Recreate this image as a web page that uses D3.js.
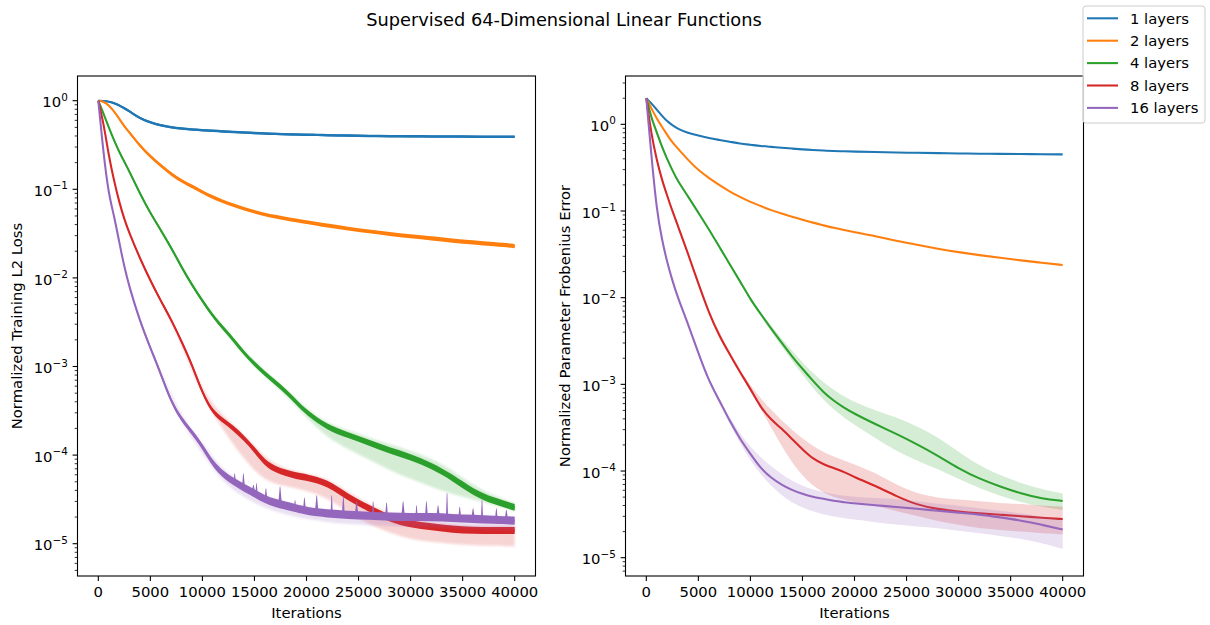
<!DOCTYPE html>
<html>
<head>
<meta charset="utf-8">
<script src="https://cdn.jsdelivr.net/npm/d3@7"></script>
<style>
  html, body { margin: 0; padding: 0; background: #ffffff; }
  text { font-family: "DejaVu Sans", sans-serif; fill: #000; }
</style>
</head>
<body>
<svg id="chart" width="1210" height="625"></svg>
<script>
// ---------- data ----------
const iterations = [0, 500, 1000, 1500, 2000, 2500, 3000, 4000, 5000, 6000, 7000, 8000, 9000,
  10000, 11000, 12000, 13000, 14000, 15000, 16000, 17000, 18000, 19000, 20000,
  22000, 24000, 26000, 28000, 30000, 32000, 34000, 36000, 38000, 40000];

const layerLabels = ["1 layers", "2 layers", "4 layers", "8 layers", "16 layers"];

// Normalized training L2 loss (running mean)
const lossL1 = [1.00, 0.99, 0.98, 0.94, 0.89, 0.82, 0.76, 0.63, 0.57, 0.525, 0.50, 0.484, 0.473,
  0.465, 0.457, 0.45, 0.444, 0.437, 0.43, 0.427, 0.422, 0.419, 0.416, 0.413,
  0.407, 0.404, 0.40, 0.398, 0.396, 0.394, 0.394, 0.393, 0.392, 0.391];
const lossL2 = [1.00, 0.98, 0.89, 0.76, 0.63, 0.51, 0.437, 0.309, 0.234, 0.186, 0.148, 0.124, 0.108,
  0.0933, 0.0813, 0.0724, 0.0661, 0.0603, 0.0556, 0.0519, 0.049, 0.0468, 0.0447, 0.0427,
  0.0389, 0.0359, 0.0335, 0.0313, 0.0295, 0.0279, 0.0264, 0.0251, 0.024, 0.0229];
const lossL4 = [1.00, 0.716, 0.501, 0.359, 0.266, 0.204, 0.158, 0.0891, 0.0537, 0.0347, 0.0219, 0.0132, 0.00832,
  0.0055, 0.00372, 0.00269, 0.0020, 0.00141, 0.00107, 8.32e-4, 6.61e-4, 5.25e-4, 3.98e-4, 3.02e-4,
  2.04e-4, 1.68e-4, 1.38e-4, 1.12e-4, 9.55e-5, 7.59e-5, 5.62e-5, 3.80e-5, 3.02e-5, 2.57e-5];
const lossL8 = [1.00, 0.562, 0.240, 0.126, 0.0724, 0.0457, 0.0316, 0.0166, 0.00933, 0.0055, 0.00339, 0.00191, 0.00105,
  5.01e-4, 3.02e-4, 2.45e-4, 2.00e-4, 1.55e-4, 1.15e-4, 8.13e-5, 6.92e-5, 6.31e-5, 5.82e-5, 5.62e-5,
  4.90e-5, 3.31e-5, 2.51e-5, 1.91e-5, 1.66e-5, 1.55e-5, 1.45e-5, 1.41e-5, 1.41e-5, 1.41e-5];
const lossL16 = [1.00, 0.251, 0.0871, 0.0513, 0.0257, 0.0132, 0.00776, 0.00324, 0.00162, 8.32e-4, 3.98e-4, 2.51e-4, 1.82e-4,
  1.26e-4, 7.94e-5, 6.03e-5, 5.01e-5, 4.27e-5, 3.72e-5, 3.16e-5, 2.88e-5, 2.69e-5, 2.51e-5, 2.34e-5,
  2.19e-5, 2.11e-5, 2.07e-5, 2.02e-5, 2.00e-5, 2.00e-5, 1.95e-5, 1.91e-5, 1.86e-5, 1.82e-5];

// Half-width of the per-step jitter around each loss curve, in decades
const lossJitterL1 = [0.004, 0.008, 0.010, 0.012, 0.014, 0.014, 0.014, 0.014, 0.014, 0.014, 0.014, 0.014, 0.014,
  0.014, 0.014, 0.014, 0.014, 0.014, 0.014, 0.014, 0.014, 0.014, 0.014, 0.014,
  0.014, 0.014, 0.014, 0.014, 0.014, 0.014, 0.014, 0.014, 0.014, 0.014];
const lossJitterL2 = [0.004, 0.008, 0.010, 0.012, 0.014, 0.015, 0.016, 0.018, 0.019, 0.020, 0.020, 0.020, 0.020,
  0.020, 0.020, 0.020, 0.020, 0.020, 0.020, 0.020, 0.021, 0.021, 0.021, 0.021,
  0.022, 0.022, 0.022, 0.023, 0.023, 0.023, 0.024, 0.024, 0.024, 0.024];
const lossJitterL4 = [0.004, 0.008, 0.010, 0.012, 0.013, 0.014, 0.015, 0.016, 0.017, 0.018, 0.019, 0.020, 0.021,
  0.022, 0.023, 0.024, 0.025, 0.026, 0.027, 0.028, 0.029, 0.030, 0.030, 0.031,
  0.032, 0.033, 0.034, 0.035, 0.036, 0.036, 0.037, 0.038, 0.038, 0.038];
const lossJitterL8 = [0.004, 0.008, 0.010, 0.012, 0.013, 0.014, 0.015, 0.016, 0.017, 0.018, 0.019, 0.020, 0.022,
  0.024, 0.026, 0.028, 0.030, 0.032, 0.034, 0.035, 0.036, 0.036, 0.037, 0.037,
  0.038, 0.038, 0.039, 0.040, 0.040, 0.040, 0.040, 0.040, 0.040, 0.040];
const lossJitterL16 = [0.004, 0.008, 0.010, 0.012, 0.014, 0.016, 0.018, 0.020, 0.022, 0.024, 0.026, 0.028, 0.030,
  0.033, 0.036, 0.040, 0.042, 0.045, 0.046, 0.046, 0.046, 0.046, 0.046, 0.046,
  0.046, 0.046, 0.046, 0.046, 0.046, 0.046, 0.046, 0.046, 0.046, 0.046];

// Upward spikes of the 16-layer loss
const spikeIterationsL16 = [13100, 13940, 14900, 15200, 16100, 17460, 18900, 19800, 20980, 22420, 23540, 24810,
  26400, 27690, 29280, 30570, 31520, 32640, 33500, 34720, 36000, 36860, 38240, 39200];
const spikePeaksL16 = [6.2e-5, 6.2e-5, 4.6e-5, 4.8e-5, 4.2e-5, 4.4e-5, 3.1e-5, 3.3e-5, 3.5e-5, 3.5e-5, 3.4e-5, 3.0e-5,
  3.0e-5, 2.9e-5, 3.0e-5, 2.7e-5, 3.0e-5, 2.7e-5, 3.7e-5, 2.6e-5, 2.5e-5, 3.1e-5, 2.5e-5, 2.4e-5];

// Spread across seeds, sampled from 6000 iterations on
const bandIterations = [6000, 8000, 10000, 12000, 14000, 16000, 18000, 20000, 22000,
  24000, 26000, 28000, 30000, 32000, 34000, 36000, 38000, 40000];

const lossBandHighL4 = [0.0355, 0.0135, 0.00562, 0.00282, 0.00148, 8.91e-4, 5.62e-4, 3.31e-4, 2.29e-4,
  1.91e-4, 1.58e-4, 1.32e-4, 1.12e-4, 9.12e-5, 6.76e-5, 4.57e-5, 3.47e-5, 2.88e-5];
const lossBandLowL4 = [0.0339, 0.0129, 0.00537, 0.00257, 0.00132, 7.76e-4, 4.79e-4, 2.63e-4, 1.58e-4,
  1.17e-4, 8.91e-5, 6.76e-5, 5.37e-5, 4.37e-5, 3.63e-5, 3.16e-5, 2.75e-5, 2.34e-5];
const lossBandHighL8 = [0.00562, 0.0020, 5.25e-4, 2.69e-4, 1.74e-4, 9.12e-5, 6.92e-5, 6.17e-5, 5.50e-5,
  3.80e-5, 2.82e-5, 2.14e-5, 1.86e-5, 1.74e-5, 1.62e-5, 1.58e-5, 1.58e-5, 1.58e-5];
const lossBandLowL8 = [0.00537, 0.00182, 4.57e-4, 1.91e-4, 8.91e-5, 5.01e-5, 4.47e-5, 3.98e-5, 3.31e-5,
  2.24e-5, 1.66e-5, 1.32e-5, 1.12e-5, 1.05e-5, 1.00e-5, 9.55e-6, 9.55e-6, 9.33e-6];
const lossBandHighL16 = [8.71e-4, 2.69e-4, 1.38e-4, 6.61e-5, 4.68e-5, 3.47e-5, 2.95e-5, 2.57e-5, 2.40e-5,
  2.32e-5, 2.26e-5, 2.21e-5, 2.19e-5, 2.19e-5, 2.14e-5, 2.09e-5, 2.04e-5, 2.00e-5];
const lossBandLowL16 = [7.94e-4, 2.24e-4, 1.05e-4, 4.79e-5, 3.31e-5, 2.51e-5, 2.14e-5, 1.91e-5, 1.74e-5,
  1.66e-5, 1.62e-5, 1.58e-5, 1.55e-5, 1.55e-5, 1.51e-5, 1.48e-5, 1.45e-5, 1.41e-5];

// Normalized parameter Frobenius error (mean)
const errL1 = [2.00, 1.74, 1.48, 1.26, 1.08, 0.977, 0.891, 0.794, 0.741, 0.692, 0.661, 0.631, 0.598,
  0.581, 0.562, 0.550, 0.537, 0.525, 0.513, 0.505, 0.498, 0.492, 0.488, 0.484,
  0.479, 0.473, 0.469, 0.465, 0.461, 0.458, 0.456, 0.454, 0.452, 0.450];
const errL2 = [2.00, 1.51, 1.17, 0.933, 0.759, 0.617, 0.531, 0.389, 0.295, 0.241, 0.200, 0.168, 0.145,
  0.127, 0.114, 0.102, 0.0933, 0.0857, 0.0794, 0.0733, 0.0684, 0.0638, 0.0603, 0.0569,
  0.0513, 0.0452, 0.0407, 0.0367, 0.0335, 0.0309, 0.0288, 0.0269, 0.0253, 0.0238];
const errL4 = [2.00, 1.17, 0.813, 0.550, 0.398, 0.295, 0.224, 0.148, 0.0955, 0.0617, 0.0389, 0.0245, 0.0155,
  0.00955, 0.00646, 0.00437, 0.00302, 0.00209, 0.00151, 0.00110, 8.13e-4, 6.46e-4, 5.37e-4, 4.57e-4,
  3.47e-4, 2.69e-4, 2.04e-4, 1.51e-4, 1.07e-4, 8.13e-5, 6.61e-5, 5.50e-5, 4.79e-5, 4.52e-5];
const errL8 = [2.00, 0.741, 0.389, 0.229, 0.151, 0.100, 0.0692, 0.0324, 0.0145, 0.00676, 0.00363, 0.00224, 0.00138,
  8.91e-4, 5.37e-4, 3.89e-4, 3.09e-4, 2.34e-4, 1.78e-4, 1.38e-4, 1.20e-4, 1.08e-4, 9.77e-5, 8.51e-5,
  6.76e-5, 5.13e-5, 4.07e-5, 3.63e-5, 3.39e-5, 3.24e-5, 3.13e-5, 3.02e-5, 2.88e-5, 2.79e-5];
const errL16 = [2.00, 0.417, 0.102, 0.0468, 0.0257, 0.0158, 0.0102, 0.00501, 0.00229, 0.00110, 6.61e-4, 3.80e-4, 2.34e-4,
  1.58e-4, 1.07e-4, 8.32e-5, 6.92e-5, 6.03e-5, 5.43e-5, 5.01e-5, 4.79e-5, 4.52e-5, 4.37e-5, 4.22e-5,
  4.03e-5, 3.85e-5, 3.67e-5, 3.47e-5, 3.31e-5, 3.16e-5, 2.92e-5, 2.69e-5, 2.40e-5, 2.11e-5];

const errBandHighL4 = [0.0631, 0.0251, 0.00977, 0.00468, 0.00245, 0.00132, 8.51e-4, 6.17e-4, 5.01e-4,
  4.17e-4, 3.31e-4, 2.45e-4, 1.66e-4, 1.15e-4, 8.91e-5, 7.24e-5, 6.17e-5, 5.50e-5];
const errBandLowL4 = [0.0603, 0.0240, 0.00933, 0.00398, 0.00186, 8.91e-4, 5.01e-4, 3.39e-4, 2.40e-4,
  1.70e-4, 1.32e-4, 1.05e-4, 8.13e-5, 6.31e-5, 5.13e-5, 4.37e-5, 3.89e-5, 3.55e-5];
const errBandHighL8 = [0.00708, 0.00234, 9.33e-4, 5.01e-4, 2.95e-4, 1.91e-4, 1.45e-4, 1.20e-4, 9.55e-5,
  6.92e-5, 5.50e-5, 4.90e-5, 4.68e-5, 4.47e-5, 4.27e-5, 4.17e-5, 3.98e-5, 3.89e-5];
const errBandLowL8 = [0.00646, 0.00214, 8.32e-4, 3.16e-4, 1.20e-4, 6.46e-5, 4.90e-5, 4.37e-5, 3.98e-5,
  3.47e-5, 3.02e-5, 2.63e-5, 2.40e-5, 2.19e-5, 2.09e-5, 2.00e-5, 1.91e-5, 1.86e-5];
const errBandHighL16 = [0.00112, 4.07e-4, 1.82e-4, 1.12e-4, 7.59e-5, 6.03e-5, 5.37e-5, 5.01e-5, 4.90e-5,
  4.79e-5, 4.47e-5, 4.17e-5, 3.98e-5, 3.72e-5, 3.47e-5, 3.24e-5, 2.95e-5, 2.75e-5];
const errBandLowL16 = [0.00105, 3.47e-4, 1.26e-4, 6.61e-5, 4.17e-5, 3.39e-5, 2.95e-5, 2.75e-5, 2.57e-5,
  2.40e-5, 2.29e-5, 2.19e-5, 2.04e-5, 1.91e-5, 1.78e-5, 1.66e-5, 1.48e-5, 1.26e-5];

// Axis ticks and limits
const xTickValues = [0, 5000, 10000, 15000, 20000, 25000, 30000, 35000, 40000];
const xLimits = [-2000, 42000];
const yTickExponents = [0, -1, -2, -3, -4, -5];
const lossLimits = [4.32e-6, 1.90];
const errLimits = [6.15e-6, 3.61];

const colors = ["#1f77b4", "#ff7f0e", "#2ca02c", "#d62728", "#9467bd"];

// ---------- drawing ----------
const svg = d3.select("#chart");
const defs = svg.append("defs");
defs.append("filter").attr("id", "soften")
  .attr("x", "-5%").attr("y", "-5%").attr("width", "110%").attr("height", "110%")
  .append("feGaussianBlur").attr("stdDeviation", 1.3);

const TOP = 76, BOTTOM = 576;
const FS = 14.8;
const SUP = 10.4;

const panels = [
  {
    id: "loss", left: 77.5, right: 535.5, yLimits: lossLimits,
    yLabel: "Normalized Training L2 Loss", yLabelX: 22,
    series: [lossL1, lossL2, lossL4, lossL8, lossL16],
    jitter: [lossJitterL1, lossJitterL2, lossJitterL4, lossJitterL8, lossJitterL16],
    bands: [null, null, [lossBandLowL4, lossBandHighL4], [lossBandLowL8, lossBandHighL8], [lossBandLowL16, lossBandHighL16]],
    softBands: true
  },
  {
    id: "err", left: 625.5, right: 1083.5, yLimits: errLimits,
    yLabel: "Normalized Parameter Frobenius Error", yLabelX: 570,
    series: [errL1, errL2, errL4, errL8, errL16],
    jitter: null,
    bands: [null, null, [errBandLowL4, errBandHighL4], [errBandLowL8, errBandHighL8], [errBandLowL16, errBandHighL16]],
    softBands: false
  }
];

// value of a series at an arbitrary iteration (linear in log space)
function valueAt(series, it) {
  const i = Math.max(1, d3.bisectLeft(iterations, it));
  const x0 = iterations[i - 1], x1 = iterations[i];
  const t = (it - x0) / (x1 - x0);
  return Math.pow(10, Math.log10(series[i - 1]) * (1 - t) + Math.log10(series[i]) * t);
}

panels.forEach(p => {
  const x = d3.scaleLinear().domain(xLimits).range([p.left, p.right]);
  const y = d3.scaleLog().domain(p.yLimits).range([BOTTOM, TOP]);

  defs.append("clipPath").attr("id", "clip-" + p.id)
    .append("rect").attr("x", p.left).attr("y", TOP)
    .attr("width", p.right - p.left).attr("height", BOTTOM - TOP);

  const plot = svg.append("g").attr("clip-path", `url(#clip-${p.id})`);

  const line = d3.line().curve(d3.curveBasis)
    .x(d => x(d[0])).y(d => y(d[1]));
  const area = d3.area().curve(d3.curveBasis)
    .x(d => x(d[0])).y0(d => y(d[1])).y1(d => y(d[2]));

  p.series.forEach((vals, si) => {
    const col = colors[si];
    const band = p.bands[si];
    if (band) {
      const bd = bandIterations.map((it, k) => [it, band[0][k], band[1][k]]);
      const b = plot.append("path").datum(bd)
        .attr("d", area).attr("fill", col).attr("fill-opacity", 0.2).attr("stroke", "none");
      if (p.softBands) b.attr("filter", "url(#soften)");
    }
    if (p.jitter) {
      const jit = p.jitter[si];
      const env = iterations.map((it, k) => [it, vals[k] * Math.pow(10, -jit[k]), vals[k] * Math.pow(10, jit[k])]);
      plot.append("path").datum(env).attr("d", area).attr("fill", col).attr("stroke", "none");
    }
    plot.append("path").datum(iterations.map((it, k) => [it, vals[k]]))
      .attr("d", line).attr("fill", "none").attr("stroke", col)
      .attr("stroke-width", 2.08).attr("stroke-linejoin", "round").attr("stroke-linecap", "butt");

    if (p.id === "loss" && si === 4) {
      spikeIterationsL16.forEach((it, k) => {
        const base = y(valueAt(vals, it));
        const xp = x(it);
        const half = 1.1 + (k % 3) * 0.35;
        plot.append("path")
          .attr("d", `M${xp - half},${base}L${xp - 0.3},${y(spikePeaksL16[k])}L${xp + 0.3},${y(spikePeaksL16[k])}L${xp + half},${base}Z`)
          .attr("fill", col).attr("stroke", "none");
      });
    }
  });

  // frame
  svg.append("rect").attr("x", p.left).attr("y", TOP)
    .attr("width", p.right - p.left).attr("height", BOTTOM - TOP)
    .attr("fill", "none").attr("stroke", "#000").attr("stroke-width", 1.1);

  const axes = svg.append("g");

  // x ticks
  xTickValues.forEach(v => {
    const xp = x(v);
    axes.append("line").attr("x1", xp).attr("x2", xp).attr("y1", BOTTOM).attr("y2", BOTTOM + 4.9)
      .attr("stroke", "#000").attr("stroke-width", 1.1);
    axes.append("text").attr("x", xp).attr("y", BOTTOM + 21)
      .attr("text-anchor", "middle").attr("font-size", FS).text(String(v));
  });
  axes.append("text").attr("x", (p.left + p.right) / 2).attr("y", 617.5)
    .attr("text-anchor", "middle").attr("font-size", FS).text("Iterations");

  // y major ticks with 10^k labels
  yTickExponents.forEach(e => {
    const yp = y(Math.pow(10, e));
    axes.append("line").attr("x1", p.left - 4.9).attr("x2", p.left).attr("y1", yp).attr("y2", yp)
      .attr("stroke", "#000").attr("stroke-width", 1.1);
    const t = axes.append("text").attr("x", p.left - 9.7).attr("y", yp + 6.6)
      .attr("text-anchor", "end").attr("font-size", FS);
    t.append("tspan").text("10");
    t.append("tspan").attr("dy", -6.5).attr("font-size", SUP).text(e === 0 ? "0" : "\u2212" + Math.abs(e));
  });
  // y minor ticks
  const [lo, hi] = p.yLimits;
  for (let e = Math.floor(Math.log10(lo)); e <= Math.ceil(Math.log10(hi)); e++) {
    for (let m = 2; m <= 9; m++) {
      const v = m * Math.pow(10, e);
      if (v < lo || v > hi) continue;
      const yp = y(v);
      axes.append("line").attr("x1", p.left - 2.8).attr("x2", p.left).attr("y1", yp).attr("y2", yp)
        .attr("stroke", "#000").attr("stroke-width", 0.8);
    }
  }
  axes.append("text")
    .attr("transform", `translate(${p.yLabelX},${(TOP + BOTTOM) / 2}) rotate(-90)`)
    .attr("text-anchor", "middle").attr("font-size", FS).text(p.yLabel);
});

// figure title
svg.append("text").attr("x", 564).attr("y", 25.5).attr("text-anchor", "middle")
  .attr("font-size", 17.8).text("Supervised 64-Dimensional Linear Functions");

// legend
const legend = svg.append("g");
legend.append("rect").attr("x", 1083).attr("y", 6).attr("width", 122).attr("height", 117)
  .attr("rx", 3).attr("fill", "#fff").attr("fill-opacity", 0.8)
  .attr("stroke", "#cccccc").attr("stroke-width", 1);
layerLabels.forEach((lab, i) => {
  const cy = 18.3 + i * 22.4;
  legend.append("line").attr("x1", 1087).attr("x2", 1118).attr("y1", cy).attr("y2", cy)
    .attr("stroke", colors[i]).attr("stroke-width", 2.08);
  legend.append("text").attr("x", 1130).attr("y", cy + 5.2).attr("font-size", FS).text(lab);
});
</script>
</body>
</html>
